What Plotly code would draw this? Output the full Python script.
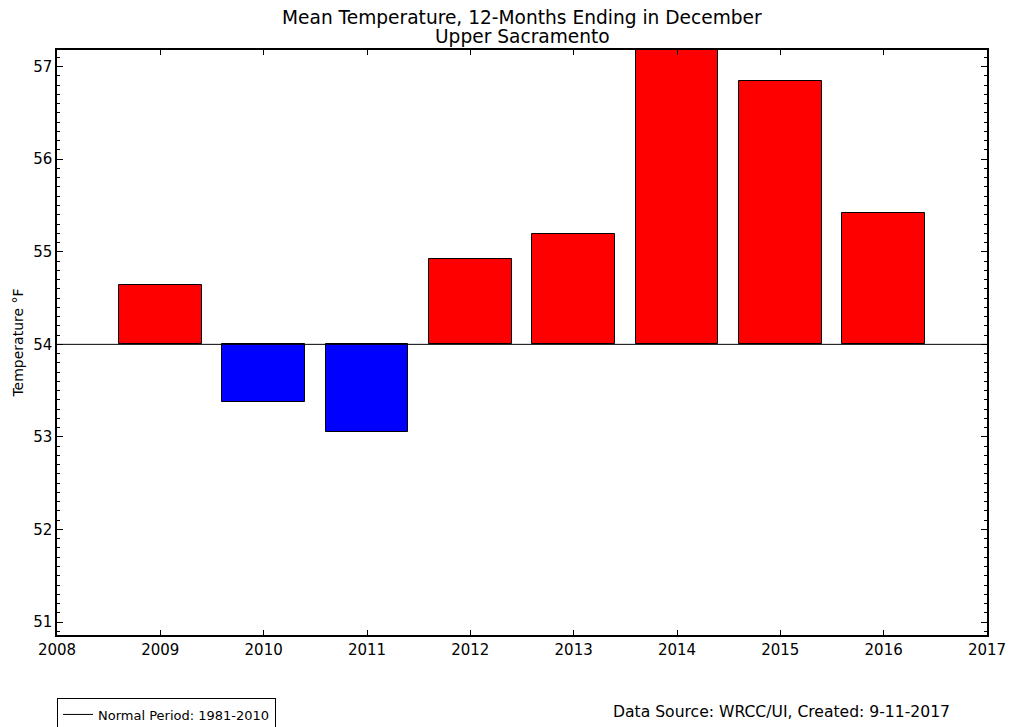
import plotly.graph_objects as go

# Annual mean temperature (°F), 12 months ending in December
years = [2009, 2010, 2011, 2012, 2013, 2014, 2015, 2016]
mean_temp = [54.64, 53.38, 53.05, 54.92, 55.19, 57.18, 56.84, 55.42]
normal = 54.0
normal_label = "Normal Period: 1981-2010"
x_ticks = [2008, 2009, 2010, 2011, 2012, 2013, 2014, 2015, 2016, 2017]
y_ticks = [51, 52, 53, 54, 55, 56, 57]
title_lines = ["Mean Temperature, 12-Months Ending in December", "Upper Sacramento"]

FONT = "DejaVu Sans"

colors = ["red" if v >= normal else "blue" for v in mean_temp]

fig = go.Figure()

fig.add_trace(go.Bar(
    x=years,
    y=[v - normal for v in mean_temp],
    base=normal,
    width=0.8,
    marker=dict(color=colors, line=dict(color="black", width=1)),
    showlegend=False,
    hoverinfo="skip",
))

fig.add_trace(go.Scatter(
    x=[x_ticks[0], x_ticks[-1]],
    y=[normal, normal],
    mode="lines",
    line=dict(color="black", width=1),
    name=normal_label,
    showlegend=True,
))

# Two-line title drawn as centred annotations above the plot
title_annotations = [
    dict(text=title_lines[0], xref="paper", yref="paper", x=0.5, y=1.0564,
         xanchor="center", yanchor="middle", showarrow=False,
         font=dict(family=FONT, size=18.6, color="black")),
    dict(text=title_lines[1], xref="paper", yref="paper", x=0.5, y=1.0239,
         xanchor="center", yanchor="middle", showarrow=False,
         font=dict(family=FONT, size=18.6, color="black")),
]

fig.update_layout(
    width=1009,
    height=727,
    margin=dict(l=57, r=22, t=50, b=92, autoexpand=False),
    paper_bgcolor="white",
    plot_bgcolor="white",
    font=dict(family=FONT, size=15, color="black"),
    bargap=0,
    legend=dict(
        x=0.0, xanchor="left",
        y=-0.1085, yanchor="top",
        orientation="h",
        bgcolor="white",
        bordercolor="black",
        borderwidth=1,
        font=dict(family=FONT, size=13, color="black"),
    ),
    xaxis=dict(
        range=[2008, 2017],
        tickvals=x_ticks,
        ticktext=[str(t) for t in x_ticks],
        ticks="inside",
        ticklen=5,
        tickcolor="black",
        showline=True,
        linecolor="black",
        linewidth=1.5,
        mirror="ticks",
        showgrid=False,
        zeroline=False,
        tickfont=dict(family=FONT, size=15),
    ),
    yaxis=dict(
        range=[50.86, 57.18],
        tickvals=y_ticks,
        ticks="inside",
        ticklen=6,
        tickcolor="black",
        showline=True,
        linecolor="black",
        linewidth=1.5,
        mirror="ticks",
        showgrid=False,
        zeroline=False,
        minor=dict(dtick=0.1, ticks="inside", ticklen=3, tickcolor="black", showgrid=False),
        tickfont=dict(family=FONT, size=15),
        title=dict(text="Temperature °F", font=dict(family=FONT, size=14), standoff=6),
    ),
    annotations=title_annotations + [
        dict(
            text="Data Source: WRCC/UI, Created: 9-11-2017",
            xref="paper", yref="paper",
            x=0.962, xanchor="right",
            y=-0.131, yanchor="middle",
            showarrow=False,
            font=dict(family=FONT, size=15.6, color="black"),
        )
    ],
)

fig.write_html("out.html")
